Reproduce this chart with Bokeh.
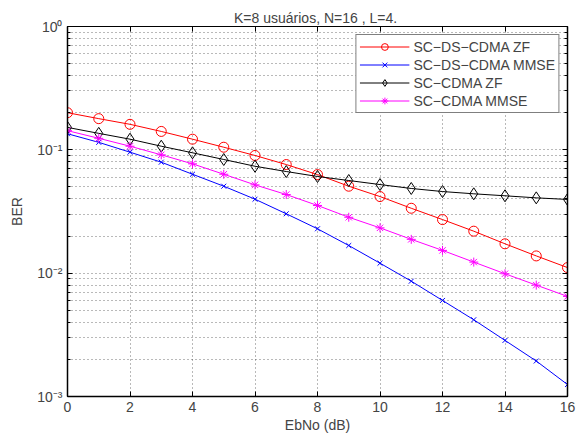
from bokeh.plotting import figure
from bokeh.models import (LinearAxis, LogAxis, FixedTicker, Range1d,
                          CustomJSTickFormatter, Legend, LegendItem)
from bokeh.embed import file_html
from bokeh.resources import INLINE

# ---- data -------------------------------------------------------------
ebno = [0, 1, 2, 3, 4, 5, 6, 7, 8, 9, 10, 11, 12, 13, 14, 15, 16]
sc_ds_cdma_zf = [0.200, 0.179, 0.161, 0.141, 0.122, 0.105, 0.090, 0.076, 0.063,
                 0.0507, 0.0418, 0.0336, 0.0272, 0.0219, 0.0173, 0.0138, 0.0111]
sc_ds_cdma_mmse = [0.135, 0.115, 0.0957, 0.0794, 0.0634, 0.0507, 0.0398, 0.0303,
                   0.0229, 0.01676, 0.01205, 0.00861, 0.00601, 0.00419, 0.00285,
                   0.00194, 0.00125]
sc_cdma_zf = [0.152, 0.136, 0.122, 0.107, 0.0946, 0.0835, 0.0736, 0.0667, 0.0608,
              0.0564, 0.0523, 0.0486, 0.0459, 0.0440, 0.0424, 0.0408, 0.0396]
sc_cdma_mmse = [0.143, 0.124, 0.107, 0.0911, 0.0770, 0.0634, 0.0520, 0.0434,
                0.0354, 0.0284, 0.0233, 0.0188, 0.0153, 0.0123, 0.00989, 0.0080,
                0.00648]

x_ticks = [0, 2, 4, 6, 8, 10, 12, 14, 16]
y_decades = [1e-3, 1e-2, 1e-1, 1e0]
y_minor = [m * d for d in y_decades[:-1] for m in range(2, 10)]

title_text = "K=8  usuários, N=16 , L=4."
x_label = "EbNo (dB)"
y_label = "BER"
names = ["SC\u2212DS\u2212CDMA ZF", "SC\u2212DS\u2212CDMA MMSE",
         "SC\u2212CDMA ZF", "SC\u2212CDMA MMSE"]

FONT = "Liberation Sans"
FS = "14px"

p = figure(width=585, height=436, x_range=Range1d(0, 16),
           y_range=Range1d(1e-3, 1), y_axis_type="log",
           output_backend="svg", toolbar_location=None,
           min_border_left=67, min_border_right=18,
           min_border_top=26, min_border_bottom=40,
           title=title_text)
p.title.text_font = FONT
p.title.text_font_size = FS
p.title.text_font_style = "normal"
p.title.align = "center"
p.title.standoff = 2
p.outline_line_color = "black"
p.outline_line_width = 1
p.background_fill_color = "white"
p.border_fill_color = "white"

sup = CustomJSTickFormatter(code="""
const m = {"-":"\u207b","0":"\u2070","1":"\u00b9","2":"\u00b2","3":"\u00b3",
           "4":"\u2074","5":"\u2075","6":"\u2076","7":"\u2077","8":"\u2078","9":"\u2079"};
const e = Math.round(Math.log10(tick));
return "10" + String(e).split("").map(c => m[c]).join("");
""")
blank = CustomJSTickFormatter(code='return "";')

xt = FixedTicker(ticks=x_ticks, minor_ticks=[])
yt = FixedTicker(ticks=y_decades, minor_ticks=y_minor)

xa = p.xaxis[0]
xa.ticker = xt
ya = p.yaxis[0]
ya.ticker = yt
ya.formatter = sup
for ax in (xa, ya):
    ax.major_label_text_font = FONT
    ax.major_label_text_font_size = FS
    ax.axis_label_text_font = FONT
    ax.axis_label_text_font_size = FS
    ax.axis_label_text_font_style = "normal"
    ax.major_tick_in = 5
    ax.major_tick_out = 0
    ax.minor_tick_in = 3
    ax.minor_tick_out = 0
    ax.axis_line_color = "black"
    ax.axis_line_width = 1.5
    ax.major_tick_line_color = "black"
    ax.minor_tick_line_color = "black"
xa.axis_label = x_label
ya.axis_label = y_label
xa.major_label_standoff = 5
xa.axis_label_standoff = 2
ya.major_label_standoff = 5
ya.axis_label_standoff = 9

top = LinearAxis(ticker=xt, formatter=blank, major_label_text_font_size="1px",
                 major_tick_in=5, major_tick_out=0, minor_tick_out=0,
                 major_label_standoff=0, axis_line_color="black")
right = LogAxis(ticker=yt, formatter=blank, major_label_text_font_size="1px",
                major_tick_in=5, major_tick_out=0, minor_tick_in=3,
                minor_tick_out=0, major_label_standoff=0,
                axis_line_color="black", axis_line_width=1.5)
p.add_layout(top, "above")
p.add_layout(right, "right")

for g in (p.xgrid[0], p.ygrid[0]):
    g.grid_line_color = "black"
    g.grid_line_alpha = 0.55
    g.grid_line_dash = "1 3"
p.ygrid[0].minor_grid_line_color = "black"
p.ygrid[0].minor_grid_line_alpha = 0.55
p.ygrid[0].minor_grid_line_dash = "1 3"

series = [
    (sc_ds_cdma_zf, "#ff0000", "circle", 10),
    (sc_ds_cdma_mmse, "#0000ff", "x", 7),
    (sc_cdma_zf, "#000000", "diamond", 12),
    (sc_cdma_mmse, "#ff00ff", "asterisk", 9),
]
items = []
for (vals, col, mk, sz), nm in zip(series, names):
    r1 = p.line(ebno, vals, line_color=col, line_width=1)
    r2 = p.scatter(ebno, vals, marker=mk, size=sz, line_color=col,
                   fill_color=None, line_width=1)
    items.append(LegendItem(label=nm, renderers=[r1, r2]))

leg = Legend(items=items, location="top_right")
leg.margin = 8
leg.padding = 3
leg.spacing = 1
leg.label_height = 17
leg.glyph_height = 17
leg.glyph_width = 50
leg.label_standoff = 4
leg.label_text_font = FONT
leg.label_text_font_size = FS
leg.border_line_color = "black"
leg.border_line_width = 1
leg.background_fill_alpha = 1
p.add_layout(leg, "center")

open("out.html", "w").write(file_html(p, INLINE))
